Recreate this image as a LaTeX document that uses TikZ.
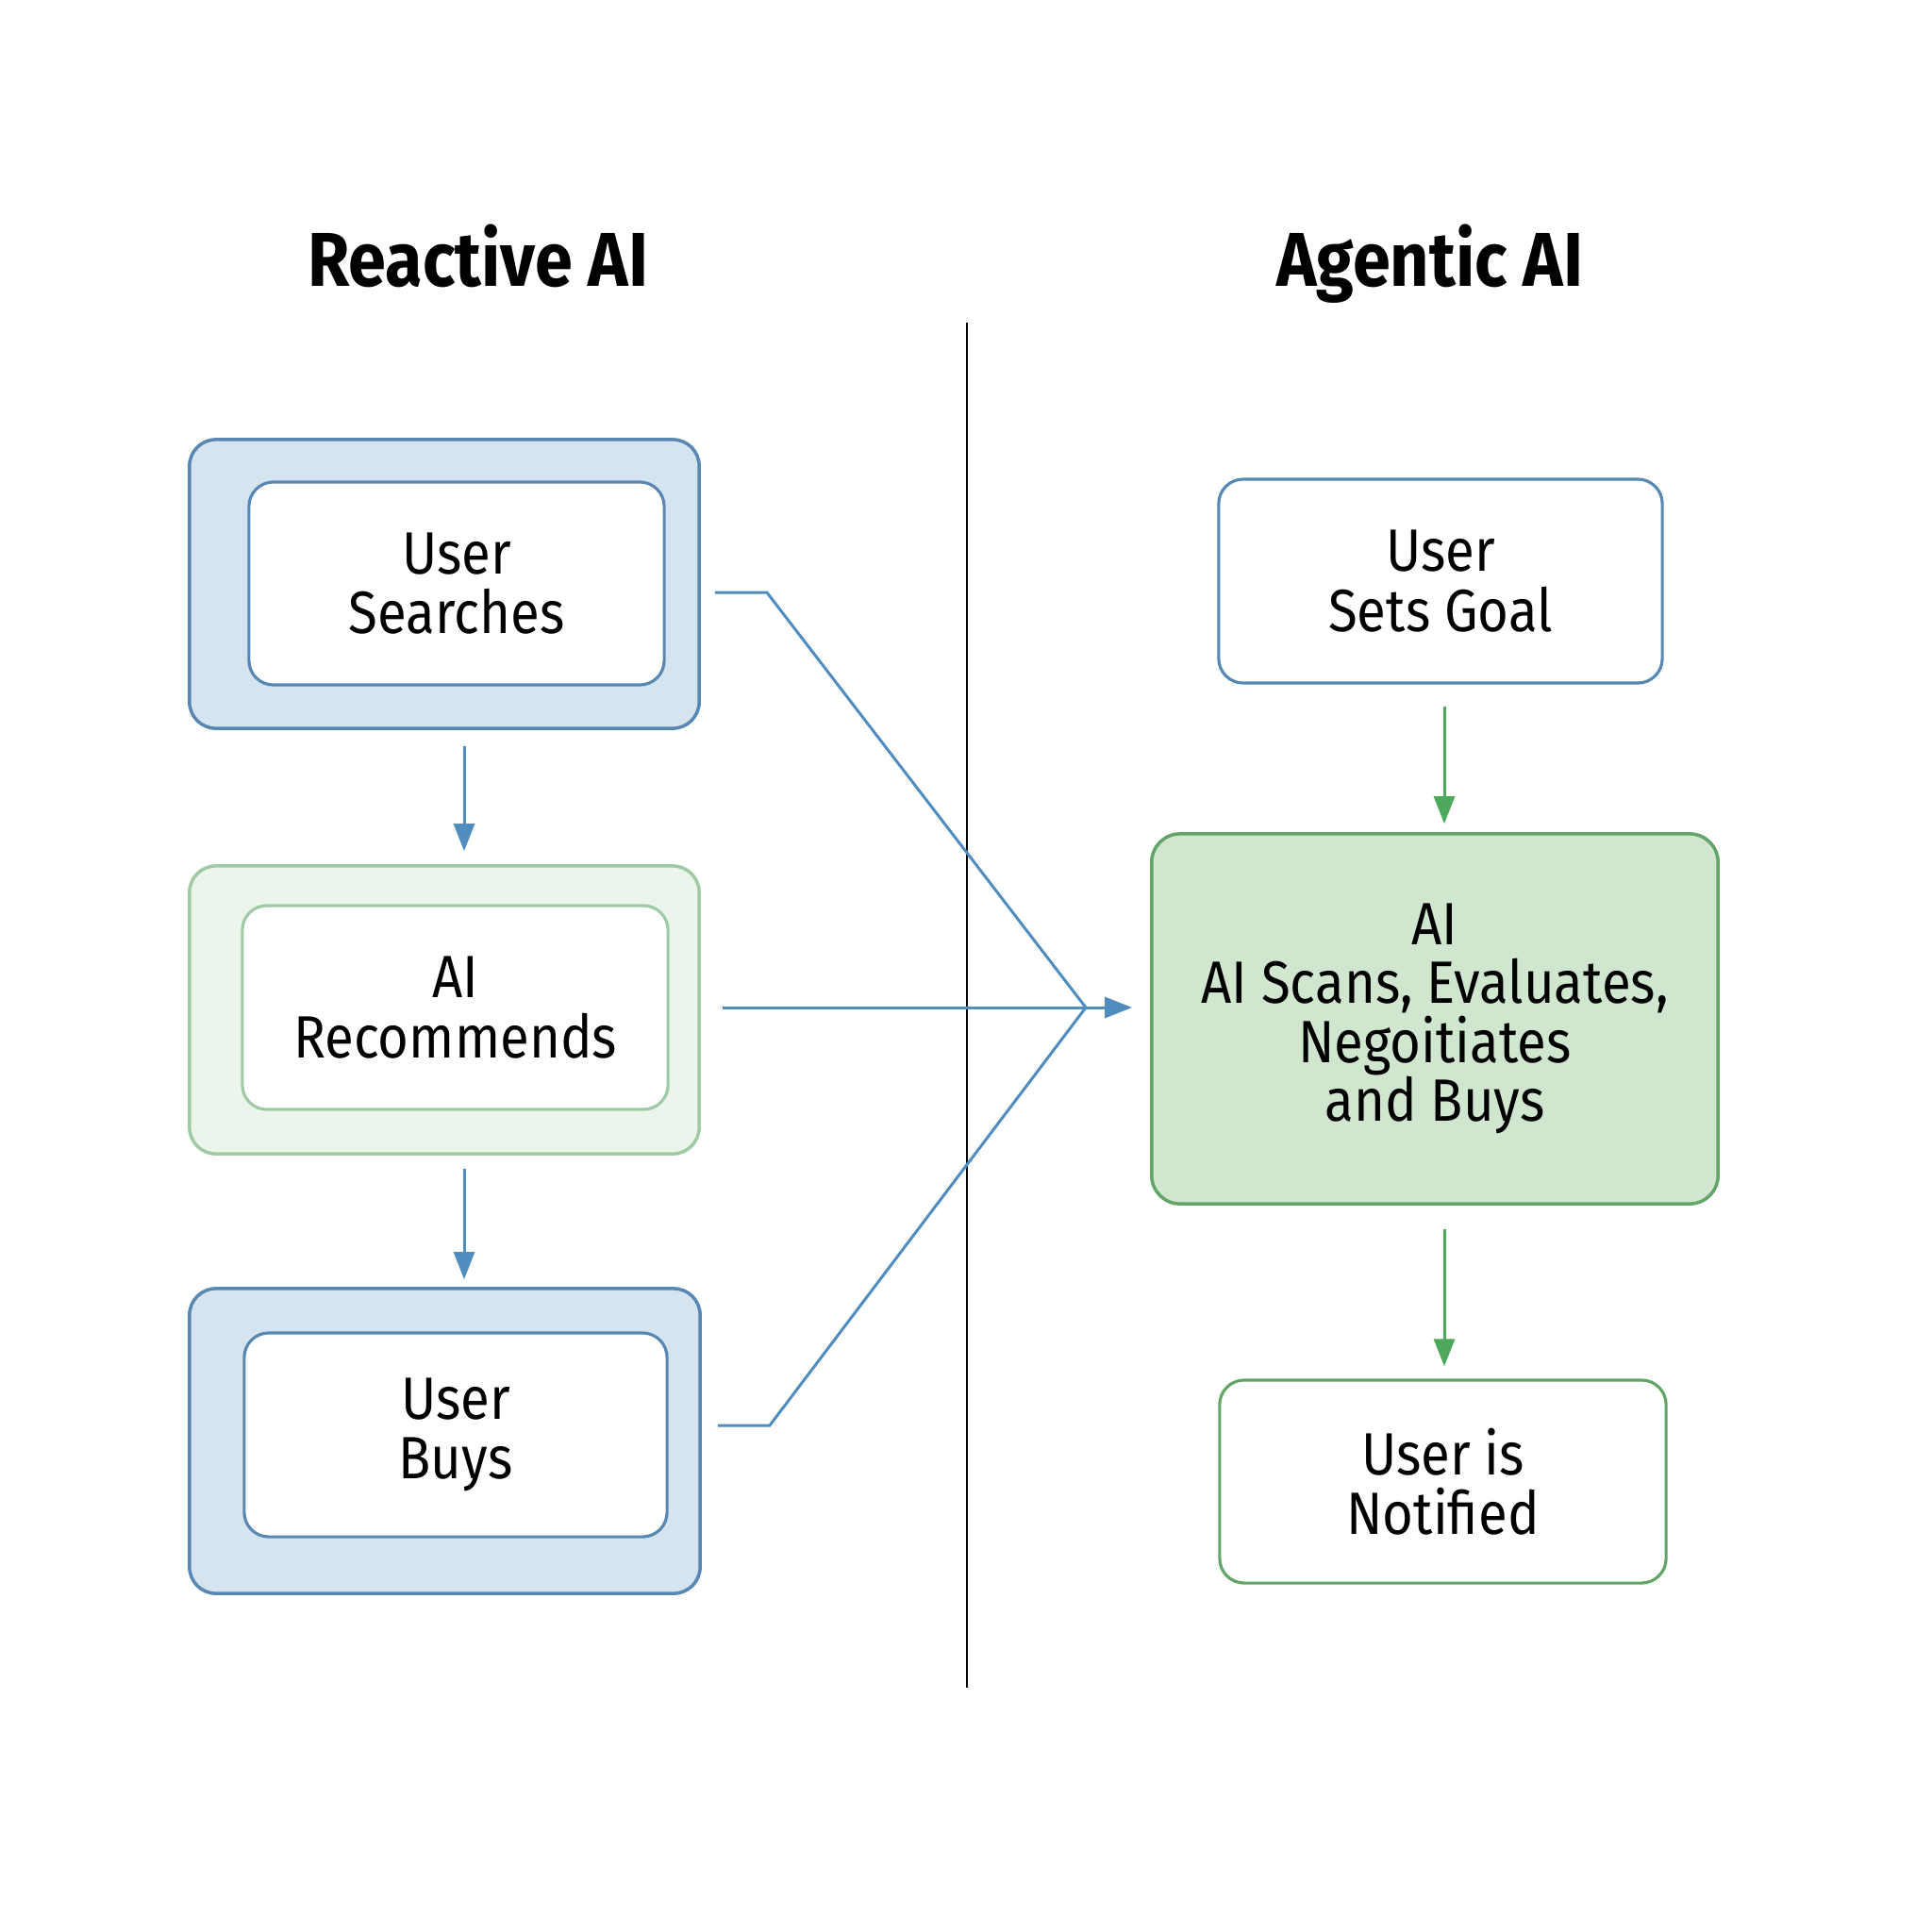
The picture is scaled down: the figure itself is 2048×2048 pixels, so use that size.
\documentclass[tikz,border=0pt]{standalone}
\usepackage{fontspec}
\setmainfont{Fira Sans}[FakeStretch=0.89]
\usetikzlibrary{arrows.meta,calc}
\definecolor{bblue}{RGB}{88,136,178}
\definecolor{bfill}{RGB}{214,228,240}
\definecolor{gline}{RGB}{98,165,102}
\definecolor{gfill}{RGB}{208,230,207}
\definecolor{lgline}{RGB}{160,202,166}
\definecolor{lgfill}{RGB}{235,245,236}
\definecolor{ablue}{RGB}{80,140,190}
\definecolor{agreen}{RGB}{78,168,92}
\begin{document}
\begin{tikzpicture}[x=0.01cm,y=-0.01cm,
  outerb/.style={draw=bblue, fill=bfill, line width=1pt, rounded corners=0.28cm, inner sep=0pt},
  outerg/.style={draw=lgline, fill=lgfill, line width=1pt, rounded corners=0.28cm, inner sep=0pt},
  txt/.style={font=\fontsize{18}{18}\selectfont, align=center, inner sep=0pt},
  innerb/.style={txt, draw=bblue, fill=white, line width=0.9pt, rounded corners=0.26cm},
  innerg/.style={txt, draw=lgline, fill=white, line width=0.9pt, rounded corners=0.26cm},
  goalbox/.style={txt, draw=bblue, fill=white, line width=0.9pt, rounded corners=0.26cm},
  notifbox/.style={txt, draw=gline, fill=white, line width=0.9pt, rounded corners=0.26cm},
  actbox/.style={txt, draw=gline, fill=gfill, line width=1pt, rounded corners=0.3cm, font=\fontsize{18}{17.7}\selectfont},
  titletext/.style={font=\fontsize{23}{27}\selectfont\bfseries, anchor=base, inner sep=0pt},
  bline/.style={draw=ablue, line width=0.85pt},
  barrow/.style={bline, -{Triangle[length=0.29cm,width=0.22cm]}},
  garrow/.style={draw=agreen, line width=0.85pt, -{Triangle[length=0.29cm,width=0.22cm]}},
  divider/.style={draw=black, line width=0.6pt}
]
\fill[white] (0,0) rectangle (2048,2048);
\useasboundingbox (0,0) rectangle (2048,2048);

% titles
\node[titletext] (t1) at (507,303) {Reactive AI};
\node[titletext] (t2) at (1516,303) {Agentic AI};

% divider
\coordinate (dt) at (1025,342);
\coordinate (db) at (1025,1789);
\draw[divider] (dt) -- (db);

% left column
\node[outerb, minimum width=5.40cm, minimum height=3.06cm] (o1) at (471,619) {};
\node[innerb, minimum width=4.40cm, minimum height=2.15cm] (i1) at (484,618.5) {User\\Searches};
\node[outerg, minimum width=5.40cm, minimum height=3.05cm] (o2) at (471,1070.5) {};
\node[innerg, minimum width=4.51cm, minimum height=2.16cm] (i2) at (482.5,1068) {AI\\Recommends};
\node[outerb, minimum width=5.41cm, minimum height=3.23cm] (o3) at (471.5,1527.5) {};
\node[innerb, minimum width=4.48cm, minimum height=2.16cm] (i3) at (483,1521) {User\\Buys};

\draw[barrow] ($(o1.south)+(21,17)$) -- ($(o1.south |- o2.north)+(21,-14)$);
\draw[barrow] ($(o2.south)+(21,14)$) -- ($(o2.south |- o3.north)+(21,-8)$);

% right column
\node[goalbox, minimum width=4.70cm, minimum height=2.16cm] (goal) at (1527,616) {User\\Sets Goal};
\node[actbox, minimum width=6.00cm, minimum height=3.92cm] (act) at (1521,1080) {AI\\AI Scans, Evaluates,\\Negoitiates\\and Buys};
\node[notifbox, minimum width=4.73cm, minimum height=2.15cm] (notif) at (1529.5,1570.5) {User is\\Notified};

\draw[garrow] ($(goal.south)+(4,23)$) -- ($(goal.south |- act.north)+(4,-9)$);
\draw[garrow] ($(act.south)+(10,25)$) -- ($(act.south |- notif.north)+(10,-13)$);

% converging connectors
\coordinate (j) at (1151,1068);
\draw[bline] ($(o1.east)+(15,9)$) -- ++(55,0) -- (j);
\draw[barrow] ($(o2.east)+(23,-2.5)$) -- ($(j -| act.west)+(-19,0)$);
\draw[bline] ($(o3.east)+(17,-16.5)$) -- ++(55,0) -- (j);
\end{tikzpicture}
\end{document}
